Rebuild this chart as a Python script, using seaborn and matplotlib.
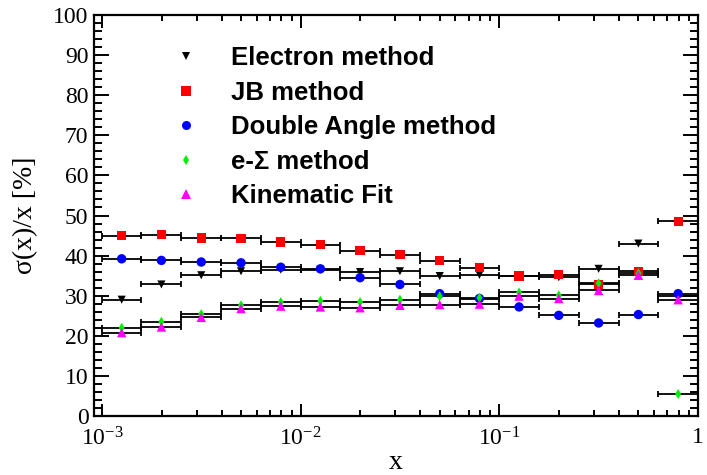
import numpy as np
import pandas as pd
import matplotlib
matplotlib.use("Agg")
import matplotlib.pyplot as plt
import seaborn as sns
from matplotlib.ticker import FixedLocator, FixedFormatter, MultipleLocator, LogLocator, NullFormatter
from matplotlib.lines import Line2D

# bin edges in x (5 bins per decade)
bin_edges = [0.001, 0.00158, 0.00251, 0.00398, 0.00631, 0.01, 0.0158, 0.0251,
             0.0398, 0.0631, 0.1, 0.158, 0.251, 0.398, 0.631, 1.0]

# resolution sigma(x)/x in % for each method
electron = [29.0, 32.8, 35.1, 36.1, 36.5, 36.5, 35.9, 36.1, 34.9, 35.2, 35.0, 34.6, 36.7, 43.0, 29.9]
jb = [45.0, 45.2, 44.4, 44.3, 43.4, 42.7, 41.2, 40.2, 38.7, 37.0, 34.9, 35.2, 32.8, 36.1, 48.6]
double_angle = [39.2, 38.8, 38.4, 38.2, 37.1, 36.7, 34.5, 32.8, 30.5, 29.3, 27.2, 25.1, 23.2, 25.3, 30.5]
e_sigma = [22.0, 23.5, 25.4, 27.6, 28.4, 28.7, 28.4, 29.0, 29.9, 29.5, 30.8, 30.1, 33.1, 35.6, 5.5]
kin_fit = [20.8, 22.2, 24.6, 26.8, 27.4, 27.2, 27.0, 27.6, 27.8, 27.9, 29.9, 29.3, 31.3, 35.1, 29.0]

methods = ["Electron method", "JB method", "Double Angle method", "e-\u03a3 method", "Kinematic Fit"]
values = [electron, jb, double_angle, e_sigma, kin_fit]
colors = ["black", "red", "blue", "#00ee00", "magenta"]
markers = ["v", "s", "o", "d", "^"]
sizes = [34, 44, 46, 26, 46]
legend_sizes = [5.5, 6.5, 6.5, 5, 6.5]

lo = np.array(bin_edges[:-1])
hi = np.array(bin_edges[1:])
centers = np.sqrt(lo * hi)

rows = []
for m, v in zip(methods, values):
    for c, l, h, y in zip(centers, lo, hi, v):
        rows.append({"method": m, "x": c, "xlo": l, "xhi": h, "res": y})
df = pd.DataFrame(rows)

sns.set_style("ticks")
plt.rcParams["font.family"] = ["Liberation Serif", "DejaVu Serif"]
plt.rcParams["mathtext.fontset"] = "custom"
plt.rcParams["mathtext.rm"] = "Liberation Serif"
plt.rcParams["mathtext.it"] = "Liberation Serif:italic"
plt.rcParams["text.color"] = "black"
plt.rcParams["axes.labelcolor"] = "black"
plt.rcParams["xtick.color"] = "black"
plt.rcParams["ytick.color"] = "black"

fig = plt.figure(figsize=(7.07, 4.75), dpi=100)
ax = fig.add_axes([94 / 707, 1 - 416 / 475, 604 / 707, 401 / 475])

for m, col, mk, s in zip(methods, colors, markers, sizes):
    sub = df[df["method"] == m]
    ax.errorbar(sub["x"], sub["res"], xerr=[sub["x"] - sub["xlo"], sub["xhi"] - sub["x"]],
                fmt="none", ecolor="black", elinewidth=1.3, capsize=2.5, capthick=1.3, zorder=2)
    sns.scatterplot(data=sub, x="x", y="res", marker=mk, color=col, s=s,
                    edgecolor="none", linewidth=0, ax=ax, zorder=3, legend=False)

ax.set_xscale("log")
ax.set_xlim(10 ** -3.04, 1.0)
ax.set_ylim(0, 100)

ax.xaxis.set_major_locator(FixedLocator([1e-3, 1e-2, 1e-1, 1.0]))
ax.xaxis.set_major_formatter(FixedFormatter(["$10^{-3}$", "$10^{-2}$", "$10^{-1}$", "1"]))
ax.xaxis.set_minor_locator(LogLocator(base=10, subs=np.arange(2, 10)))
ax.xaxis.set_minor_formatter(NullFormatter())
ax.yaxis.set_major_locator(MultipleLocator(10))
ax.yaxis.set_minor_locator(MultipleLocator(2))

ax.tick_params(which="both", direction="in", top=True, right=True, width=1.4, colors="black")
ax.tick_params(axis="y", which="major", length=11, labelsize=17, pad=4)
ax.tick_params(axis="y", which="minor", length=5.5)
ax.tick_params(axis="x", which="major", length=9, labelsize=17, pad=8)
ax.tick_params(axis="x", which="minor", length=4.5)
for sp in ax.spines.values():
    sp.set_linewidth(1.6)
    sp.set_color("black")

ax.set_xlabel("x", fontsize=20)
ax.set_ylabel("\u03c3(x)/x [%]", fontsize=20)
ax.xaxis.set_label_coords(0.5, -0.085)
ax.yaxis.set_label_coords(-0.092, 0.5)

handles = [Line2D([], [], linestyle="none", marker=mk, color=col, markersize=ms, markeredgewidth=0)
           for mk, col, ms in zip(markers, colors, legend_sizes)]
ax.legend(handles, methods, loc="upper left", bbox_to_anchor=(0.139, 0.922), frameon=False,
          prop={"family": ["Liberation Sans", "DejaVu Sans"], "weight": "bold", "size": 18.5},
          handlelength=0.6, handletextpad=1.45, labelspacing=0.41, borderpad=0, borderaxespad=0)

fig.savefig("out.png", dpi=100)
